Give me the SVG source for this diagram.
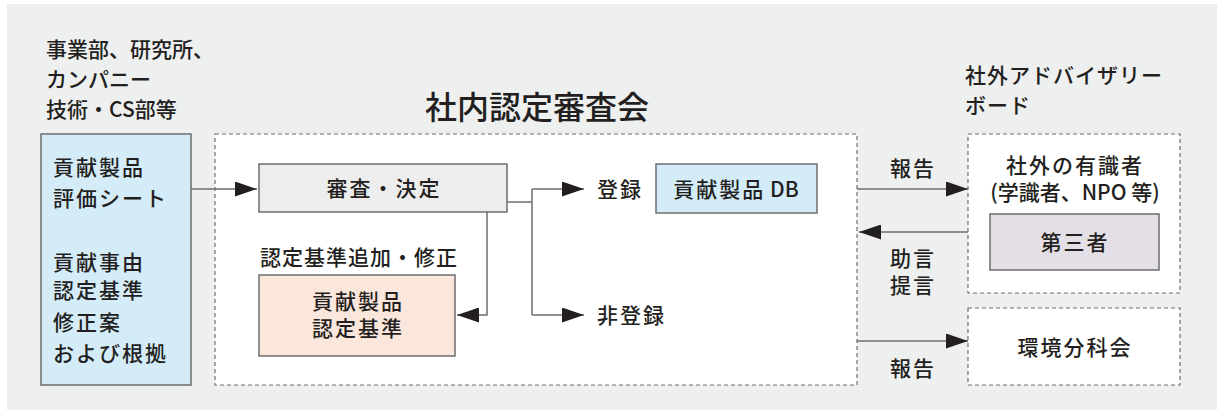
<svg xmlns="http://www.w3.org/2000/svg" width="1217" height="411" viewBox="0 0 1217 411">
<style>
text{font-family:"Noto Sans CJK JP","Noto Sans",sans-serif;fill:#231f20;font-size:21px;font-weight:500}
.c{text-anchor:middle}
.w{letter-spacing:2px}
.s{letter-spacing:1px}
.t{font-size:32px}
.solid{stroke:#6d6e70;stroke-width:1.5}
.dash{fill:#fff;stroke:#6d6e70;stroke-width:1.2;stroke-dasharray:4 3}
.ln{fill:none;stroke:#6d6e70;stroke-width:1.5}
</style>
<defs>
<marker id="ah" viewBox="0 0 22 15" refX="22" refY="7.5" markerWidth="22" markerHeight="15" markerUnits="userSpaceOnUse" orient="auto">
<path d="M0,0 L22,7.5 L0,15 Z" fill="#231f20"/>
</marker>
</defs>
<rect x="7" y="4" width="1210" height="406" fill="#eeefef"/>

<g id="source">
<text x="46" y="57">事業部、研究所、</text>
<text x="46" y="87">カンパニー</text>
<text x="46" y="117">技術・CS部等</text>
<rect x="41" y="134" width="150" height="251" fill="#d4ebf8" class="solid"/>
<text x="53" y="175" class="w">貢献製品</text>
<text x="53" y="206" class="w">評価シート</text>
<text x="53" y="270" class="w">貢献事由</text>
<text x="53" y="298" class="w">認定基準</text>
<text x="53" y="330" class="w">修正案</text>
<text x="53" y="361" class="w">および根拠</text>
</g>

<g id="committee">
<text x="537" y="119" class="c t">社内認定審査会</text>
<rect x="215" y="134" width="642" height="251" class="dash"/>
</g>

<g id="review">
<rect x="259" y="164" width="248" height="48" fill="#ededed" class="solid"/>
<text x="384" y="196" class="c w">審査・決定</text>
</g>

<g id="criteria">
<text x="260" y="265" class="s">認定基準追加・修正</text>
<rect x="259" y="275" width="196" height="81" fill="#fbe6dc" class="solid"/>
<text x="358" y="309" class="c w">貢献製品</text>
<text x="358" y="336" class="c w">認定基準</text>
</g>

<g id="register">
<text x="597" y="197" class="w">登録</text>
</g>
<g id="db">
<rect x="656" y="164" width="161" height="49" fill="#d4ebf8" class="solid"/>
<text x="736" y="197" class="c"><tspan class="w">貢献製品</tspan> DB</text>
</g>
<g id="nonregister">
<text x="597" y="323" class="w">非登録</text>
</g>

<g id="advisory">
<text x="965" y="83" class="s">社外アドバイザリー</text>
<text x="965" y="113" class="s">ボード</text>
<rect x="968" y="134" width="212" height="159" class="dash"/>
<text x="1075" y="173" class="c w">社外の有識者</text>
<text x="1075" y="200" class="c">(学識者、NPO 等)</text>
<rect x="990" y="214" width="169" height="56" fill="#e4dfe6" class="solid"/>
<text x="1075" y="250" class="c w">第三者</text>
</g>

<g id="envcommittee">
<rect x="968" y="308" width="212" height="77" class="dash"/>
<text x="1075" y="355" class="c w">環境分科会</text>
</g>

<g id="connectors">
<line x1="191" y1="189" x2="257" y2="189" class="ln" marker-end="url(#ah)"/>
<polyline points="487,212 487,315 457,315" class="ln" marker-end="url(#ah)"/>
<polyline points="507,202 532,202" class="ln"/>
<polyline points="532,189 532,315" class="ln"/>
<line x1="532" y1="189" x2="584" y2="189" class="ln" marker-end="url(#ah)"/>
<line x1="532" y1="315" x2="584" y2="315" class="ln" marker-end="url(#ah)"/>
<line x1="857" y1="189" x2="968" y2="189" class="ln" marker-end="url(#ah)"/>
<line x1="968" y1="232" x2="859" y2="232" class="ln" marker-end="url(#ah)"/>
<line x1="857" y1="341" x2="968" y2="341" class="ln" marker-end="url(#ah)"/>
<text x="913" y="176" class="c w">報告</text>
<text x="913" y="266" class="c w">助言</text>
<text x="913" y="293" class="c w">提言</text>
<text x="913" y="376" class="c w">報告</text>
</g>
</svg>
